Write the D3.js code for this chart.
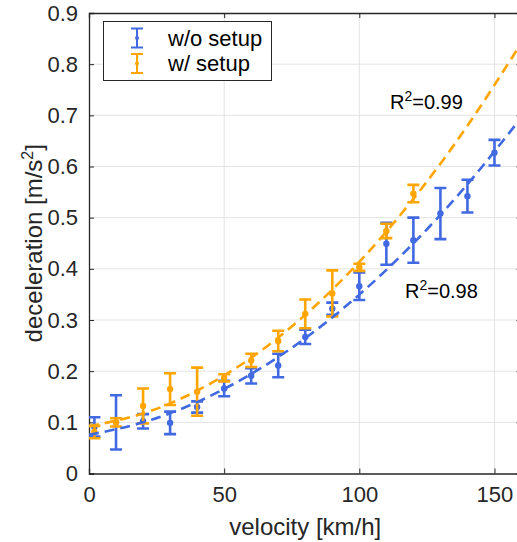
<!DOCTYPE html>
<html>
<head>
<meta charset="utf-8">
<script src="https://cdn.jsdelivr.net/npm/d3@7"></script>
<style>
  html, body { margin: 0; padding: 0; background: #fff; }
  svg { display: block; font-family: "Liberation Sans", Arial, Helvetica, sans-serif; }
</style>
</head>
<body>
<svg id="chart" width="517" height="542"></svg>
<script>
// Measured deceleration (mean ± std) per velocity step
const velocityNoSetup = [2, 10, 20, 30, 40, 50, 60, 70, 80, 90, 100, 110, 120, 130, 140, 150];
const decelNoSetup    = [0.091, 0.100, 0.102, 0.099, 0.130, 0.166, 0.191, 0.211, 0.267, 0.322, 0.366, 0.449, 0.456, 0.508, 0.542, 0.627];
const errNoSetup      = [0.019, 0.053, 0.014, 0.022, 0.011, 0.015, 0.015, 0.023, 0.014, 0.012, 0.027, 0.041, 0.044, 0.050, 0.032, 0.025];

const velocitySetup = [2, 10, 20, 30, 40, 50, 60, 70, 80, 90, 100, 110, 120];
const decelSetup    = [0.081, 0.100, 0.132, 0.165, 0.160, 0.187, 0.221, 0.259, 0.312, 0.352, 0.403, 0.474, 0.547];
const errSetup      = [0.012, 0.008, 0.034, 0.031, 0.047, 0.007, 0.013, 0.020, 0.028, 0.045, 0.007, 0.014, 0.017];

// Quadratic fit curves, sampled along velocity
const fitVelocity = [0, 20, 40, 60, 80, 100, 120, 140, 160];
const fitNoSetup  = [0.0755, 0.1000, 0.1396, 0.1945, 0.2644, 0.3496, 0.4499, 0.5653, 0.6960];
const fitSetup    = [0.0923, 0.1173, 0.1619, 0.2261, 0.3100, 0.4136, 0.5367, 0.6797, 0.8421];

const xTicks = [0, 50, 100, 150];
const yTicks = [0, 0.1, 0.2, 0.3, 0.4, 0.5, 0.6, 0.7, 0.8, 0.9];
const seriesNames = ["w/o setup", "w/ setup"];
const r2Labels = ["0.99", "0.98"];

(function () {
  const BLUE = "#4169e1";
  const ORANGE = "#ffa500";
  const AXIS = "#262626";

  const svg = d3.select("#chart");
  const pLeft = 89, pRight = 521.5, pTop = 13, pBottom = 473.5;

  const x = d3.scaleLinear().domain([0, 160]).range([pLeft, pRight]);
  const y = d3.scaleLinear().domain([0, 0.9]).range([pBottom, pTop]);

  svg.append("defs").append("clipPath").attr("id", "plotclip")
    .append("rect").attr("x", pLeft).attr("y", pTop)
    .attr("width", pRight - pLeft).attr("height", pBottom - pTop);

  // grid
  const grid = svg.append("g");
  grid.selectAll("line.gx").data(xTicks.filter(d => d > 0)).join("line")
    .attr("x1", d => x(d)).attr("x2", d => x(d))
    .attr("y1", pTop).attr("y2", pBottom)
    .attr("stroke", "#e3e3e3").attr("stroke-width", 1);
  grid.selectAll("line.gy").data(yTicks.filter(d => d > 0 && d < 0.9)).join("line")
    .attr("x1", pLeft).attr("x2", pRight)
    .attr("y1", d => y(d)).attr("y2", d => y(d))
    .attr("stroke", "#e3e3e3").attr("stroke-width", 1);

  // axes with inward ticks
  const xAxis = d3.axisBottom(x).tickValues(xTicks).tickSize(-5).tickPadding(13).tickFormat(d3.format("d"));
  const xAxisTop = d3.axisTop(x).tickValues(xTicks).tickSize(-5).tickFormat("");
  const yAxis = d3.axisLeft(y).tickValues(yTicks).tickSize(-5).tickPadding(11).tickFormat(d => d === 0 ? "0" : d3.format(".1f")(d));
  const yAxisRight = d3.axisRight(y).tickValues(yTicks).tickSize(-5).tickFormat("");

  function styleAxis(g) {
    g.selectAll("path").attr("stroke", AXIS).attr("stroke-width", 1.3);
    g.selectAll("line").attr("stroke", AXIS).attr("stroke-width", 1);
    g.selectAll("text").attr("fill", "#262626").style("font-size", "22px")
      .style("font-family", "'Liberation Sans', Arial, sans-serif");
  }
  svg.append("g").attr("transform", `translate(0,${pBottom})`).call(xAxis).call(styleAxis);
  svg.append("g").attr("transform", `translate(0,${pTop})`).call(xAxisTop).call(styleAxis);
  svg.append("g").attr("transform", `translate(${pLeft},0)`).call(yAxis).call(styleAxis);
  svg.append("g").attr("transform", `translate(${pRight},0)`).call(yAxisRight).call(styleAxis);

  // axis titles
  svg.append("text")
    .attr("x", (pLeft + pRight) / 2).attr("y", 535)
    .attr("text-anchor", "middle").attr("fill", "#262626")
    .style("font-size", "24px")
    .text("velocity [km/h]");

  const yl = svg.append("text")
    .attr("transform", `translate(42,${(pTop + pBottom) / 2}) rotate(-90)`)
    .attr("text-anchor", "middle").attr("fill", "#262626")
    .style("font-size", "24px");
  yl.append("tspan").text("deceleration [m/s");
  yl.append("tspan").attr("dy", -9).style("font-size", "16px").text("2");
  yl.append("tspan").attr("dy", 9).text("]");

  const plot = svg.append("g").attr("clip-path", "url(#plotclip)");

  function drawErrorBars(xs, ys, es, color) {
    const g = plot.append("g");
    const data = xs.map((v, i) => ({ v, d: ys[i], e: es[i] }));
    const cap = 6;
    g.selectAll("line.stem").data(data).join("line")
      .attr("x1", d => x(d.v)).attr("x2", d => x(d.v))
      .attr("y1", d => y(d.d - d.e)).attr("y2", d => y(d.d + d.e))
      .attr("stroke", color).attr("stroke-width", 2.6);
    g.selectAll("line.ct").data(data).join("line")
      .attr("x1", d => x(d.v) - cap).attr("x2", d => x(d.v) + cap)
      .attr("y1", d => y(d.d + d.e)).attr("y2", d => y(d.d + d.e))
      .attr("stroke", color).attr("stroke-width", 2.6);
    g.selectAll("line.cb").data(data).join("line")
      .attr("x1", d => x(d.v) - cap).attr("x2", d => x(d.v) + cap)
      .attr("y1", d => y(d.d - d.e)).attr("y2", d => y(d.d - d.e))
      .attr("stroke", color).attr("stroke-width", 2.6);
    g.selectAll("circle").data(data).join("circle")
      .attr("cx", d => x(d.v)).attr("cy", d => y(d.d)).attr("r", 3.2)
      .attr("fill", color);
  }

  drawErrorBars(velocityNoSetup, decelNoSetup, errNoSetup, BLUE);
  drawErrorBars(velocitySetup, decelSetup, errSetup, ORANGE);

  const fitLine = d3.line().x(d => x(d[0])).y(d => y(d[1])).curve(d3.curveNatural);
  plot.append("path")
    .datum(fitVelocity.map((v, i) => [v, fitNoSetup[i]]))
    .attr("d", fitLine).attr("fill", "none")
    .attr("stroke", BLUE).attr("stroke-width", 2.6).attr("stroke-dasharray", "10,6");
  plot.append("path")
    .datum(fitVelocity.map((v, i) => [v, fitSetup[i]]))
    .attr("d", fitLine).attr("fill", "none")
    .attr("stroke", ORANGE).attr("stroke-width", 2.6).attr("stroke-dasharray", "10,6");

  // R² annotations
  function r2(xp, yp, val) {
    const t = svg.append("text").attr("x", xp).attr("y", yp).attr("fill", "#000").style("font-size", "20px");
    t.append("tspan").text("R");
    t.append("tspan").attr("dy", -8).style("font-size", "14px").text("2");
    t.append("tspan").attr("dy", 8).text("=" + val);
  }
  r2(390, 109, r2Labels[0]);
  r2(405, 298, r2Labels[1]);

  // legend
  const lg = svg.append("g");
  lg.append("rect").attr("x", 103.5).attr("y", 21.5).attr("width", 168).attr("height", 59)
    .attr("fill", "#fff").attr("stroke", AXIS).attr("stroke-width", 1);
  const legendItems = [
    { name: seriesNames[0], color: BLUE, cy: 38 },
    { name: seriesNames[1], color: ORANGE, cy: 63.5 }
  ];
  legendItems.forEach(it => {
    const cx = 137, h = 9.5, cap = 6;
    lg.append("line").attr("x1", cx).attr("x2", cx).attr("y1", it.cy - h).attr("y2", it.cy + h)
      .attr("stroke", it.color).attr("stroke-width", 2);
    lg.append("line").attr("x1", cx - cap).attr("x2", cx + cap).attr("y1", it.cy - h).attr("y2", it.cy - h)
      .attr("stroke", it.color).attr("stroke-width", 2);
    lg.append("line").attr("x1", cx - cap).attr("x2", cx + cap).attr("y1", it.cy + h).attr("y2", it.cy + h)
      .attr("stroke", it.color).attr("stroke-width", 2);
    lg.append("circle").attr("cx", cx).attr("cy", it.cy).attr("r", 2).attr("fill", it.color);
    lg.append("text").attr("x", 168).attr("y", it.cy + 7.5).attr("fill", "#000")
      .style("font-size", "22px").text(it.name);
  });
})();
</script>
</body>
</html>
